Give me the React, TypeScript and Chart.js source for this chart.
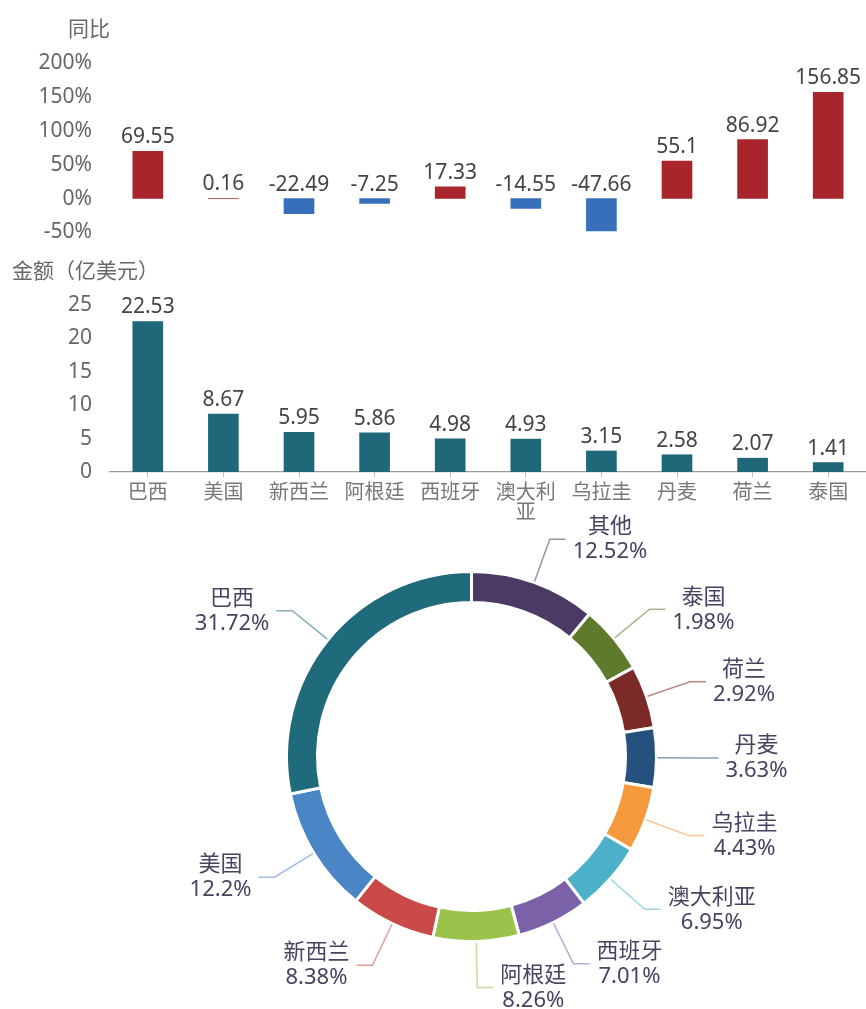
import React, { useEffect, useRef } from "react";
import { Chart, registerables } from "chart.js";

Chart.register(...registerables);

// ---------- data ----------
const countries = ["巴西", "美国", "新西兰", "阿根廷", "西班牙", "澳大利亚", "乌拉圭", "丹麦", "荷兰", "泰国"];
const axisLabels = [["巴西"], ["美国"], ["新西兰"], ["阿根廷"], ["西班牙"], ["澳大利", "亚"], ["乌拉圭"], ["丹麦"], ["荷兰"], ["泰国"]];
const yoyValues = [69.55, 0.16, -22.49, -7.25, 17.33, -14.55, -47.66, 55.1, 86.92, 156.85];
const amountValues = [22.53, 8.67, 5.95, 5.86, 4.98, 4.93, 3.15, 2.58, 2.07, 1.41];
const yoyTickRange = [-50, 200];
const yoyTickStep = 50;
const amountTickRange = [0, 25];
const amountTickStep = 5;

const shareNames = ["其他", "泰国", "荷兰", "丹麦", "乌拉圭", "澳大利亚", "西班牙", "阿根廷", "新西兰", "美国", "巴西"];
const shareLabels = ["12.52%", "1.98%", "2.92%", "3.63%", "4.43%", "6.95%", "7.01%", "8.26%", "8.38%", "12.2%", "31.72%"];
// arc sizes as drawn in the picture
const shareArcs = [11.0, 6.0, 5.5, 5.2, 5.7, 6.2, 6.25, 7.5, 7.4, 11.0, 28.25];
const shareColors = ["#4b3a64", "#5e7a2c", "#7b2a28", "#26507e", "#f59a3c", "#4bb0c8", "#7b62a8", "#9bc24a", "#c94a47", "#4a86c5", "#1f6b7c"];

const RED = "#a8262b";
const BLUE = "#386fba";
const TEAL = "#1f687a";
const FONT = '"Noto Sans", "Noto Sans CJK SC", sans-serif';
const CJK = '"Noto Sans CJK SC", "Noto Sans", sans-serif';

const valueLabelPlugin = (fmt: (v: number) => string) => ({
  id: "valueLabels",
  afterDatasetsDraw(chart: any) {
    const ctx = chart.ctx;
    const meta = chart.getDatasetMeta(0);
    const ys = chart.scales.y;
    const data = chart.data.datasets[0].data as number[];
    ctx.save();
    ctx.font = `21px ${FONT}`;
    ctx.fillStyle = "#444";
    ctx.textAlign = "center";
    ctx.textBaseline = "alphabetic";
    meta.data.forEach((bar: any, i: number) => {
      const v = data[i];
      const y = ys.getPixelForValue(Math.max(v, 0)) - 8;
      ctx.fillText(fmt(v), bar.x, y);
    });
    ctx.restore();
  },
});

const titlePlugin = (text: string, x: number, y: number, align: CanvasTextAlign) => ({
  id: "cornerTitle",
  afterDraw(chart: any) {
    const ctx = chart.ctx;
    ctx.save();
    ctx.font = `21px ${CJK}`;
    ctx.fillStyle = "#666";
    ctx.textAlign = align;
    ctx.textBaseline = "middle";
    ctx.fillText(text, x, y);
    ctx.restore();
  },
});

const leaderPlugin = {
  id: "leaders",
  afterDraw(chart: any) {
    const ctx = chart.ctx;
    const meta = chart.getDatasetMeta(0);
    ctx.save();
    meta.data.forEach((arc: any, i: number) => {
      const p = arc.getProps(["x", "y", "startAngle", "endAngle", "outerRadius"], true);
      const mid = (p.startAngle + p.endAngle) / 2;
      const c = Math.cos(mid);
      const s = Math.sin(mid);
      const x0 = p.x + c * (p.outerRadius + 1);
      const y0 = p.y + s * (p.outerRadius + 1);
      const x1 = p.x + c * (p.outerRadius + 46);
      const y1 = p.y + s * (p.outerRadius + 46);
      const dir = c >= 0 ? 1 : -1;
      const x2 = x1 + dir * 16;
      ctx.strokeStyle = shareColors[i];
      ctx.globalAlpha = 0.55;
      ctx.lineWidth = 1.5;
      ctx.beginPath();
      ctx.moveTo(x0, y0);
      ctx.lineTo(x1, y1);
      ctx.lineTo(x2, y1);
      ctx.stroke();
      ctx.globalAlpha = 1;
      ctx.font = `22px ${FONT}`;
      const name = shareNames[i];
      const pct = shareLabels[i];
      const w = Math.max(ctx.measureText(name).width, ctx.measureText(pct).width);
      const cx = dir > 0 ? x2 + 7 + w / 2 : x2 - 7 - w / 2;
      ctx.fillStyle = "#4b4160";
      ctx.textAlign = "center";
      ctx.textBaseline = "middle";
      ctx.fillText(name, cx, y1 - 12);
      ctx.fillText(pct, cx, y1 + 13);
    });
    ctx.restore();
  },
};

function useChart(ref: React.RefObject<HTMLCanvasElement | null>, make: (c: HTMLCanvasElement) => Chart) {
  useEffect(() => {
    if (!ref.current) return;
    const ch = make(ref.current);
    return () => ch.destroy();
  }, []);
}

export default function App() {
  const topRef = useRef<HTMLCanvasElement>(null);
  const midRef = useRef<HTMLCanvasElement>(null);
  const pieRef = useRef<HTMLCanvasElement>(null);

  useChart(topRef, (c) =>
    new Chart(c, {
      type: "bar",
      data: {
        labels: countries,
        datasets: [
          {
            data: yoyValues,
            backgroundColor: yoyValues.map((v) => (v >= 0 ? RED : BLUE)),
            barThickness: 30,
          },
        ],
      },
      options: {
        animation: false,
        responsive: false,
        devicePixelRatio: 1,
        layout: { padding: { top: 63, bottom: 0, left: 0, right: 0 } },
        plugins: { legend: { display: false }, tooltip: { enabled: false } },
        scales: {
          x: { display: false },
          y: {
            min: yoyTickRange[0],
            max: yoyTickRange[1],
            ticks: {
              stepSize: yoyTickStep,
              callback: (v: any) => `${v}%`,
              color: "#666",
              font: { family: FONT, size: 21 },
              padding: 10,
            },
            grid: { display: false },
            border: { display: false },
            afterFit: (s: any) => {
              s.width = 110;
            },
          },
        },
      },
      plugins: [valueLabelPlugin((v) => String(v)), titlePlugin("同比", 110, 28, "right")],
    } as any)
  );

  useChart(midRef, (c) =>
    new Chart(c, {
      type: "bar",
      data: {
        labels: axisLabels,
        datasets: [{ data: amountValues, backgroundColor: TEAL, barThickness: 30 }],
      },
      options: {
        animation: false,
        responsive: false,
        devicePixelRatio: 1,
        layout: { padding: { top: 60, bottom: 0, left: 0, right: 0 } },
        plugins: { legend: { display: false }, tooltip: { enabled: false } },
        scales: {
          x: {
            ticks: { color: "#777", font: { family: CJK, size: 20, lineHeight: 1.0 }, padding: 4, maxRotation: 0, autoSkip: false },
            grid: { display: true, drawOnChartArea: false, offset: false, tickLength: 5, color: "#bbb" },
            border: { display: true, color: "#9a9a9a", width: 1.2 },
            afterFit: (s: any) => {
              s.height = 48;
            },
          },
          y: {
            min: amountTickRange[0],
            max: amountTickRange[1],
            ticks: { stepSize: amountTickStep, color: "#666", font: { family: FONT, size: 21 }, padding: 10 },
            grid: { display: false },
            border: { display: false },
            afterFit: (s: any) => {
              s.width = 110;
            },
          },
        },
      },
      plugins: [valueLabelPlugin((v) => String(v)), titlePlugin("金额（亿美元）", 12, 25, "left")],
    } as any)
  );

  useChart(pieRef, (c) =>
    new Chart(c, {
      type: "doughnut",
      data: {
        labels: shareNames,
        datasets: [
          {
            data: shareArcs,
            backgroundColor: shareColors,
            borderColor: "#ffffff",
            borderWidth: 3,
          },
        ],
      },
      options: {
        animation: false,
        responsive: false,
        devicePixelRatio: 1,
        radius: 185,
        cutout: 154,
        layout: { padding: { top: 75, bottom: 66, left: 285, right: 208 } },
        plugins: { legend: { display: false }, tooltip: { enabled: false } },
      },
      plugins: [leaderPlugin],
    } as any)
  );

  return (
    <div style={{ position: "absolute", left: 0, top: 0, width: 866, height: 1009, background: "#fff" }}>
      <canvas ref={topRef} width={866} height={255} style={{ position: "absolute", left: 0, top: 0, width: 866, height: 255 }} />
      <canvas ref={midRef} width={866} height={275} style={{ position: "absolute", left: 0, top: 245, width: 866, height: 275 }} />
      <canvas ref={pieRef} width={866} height={514} style={{ position: "absolute", left: 0, top: 495, width: 866, height: 514 }} />
    </div>
  );
}
